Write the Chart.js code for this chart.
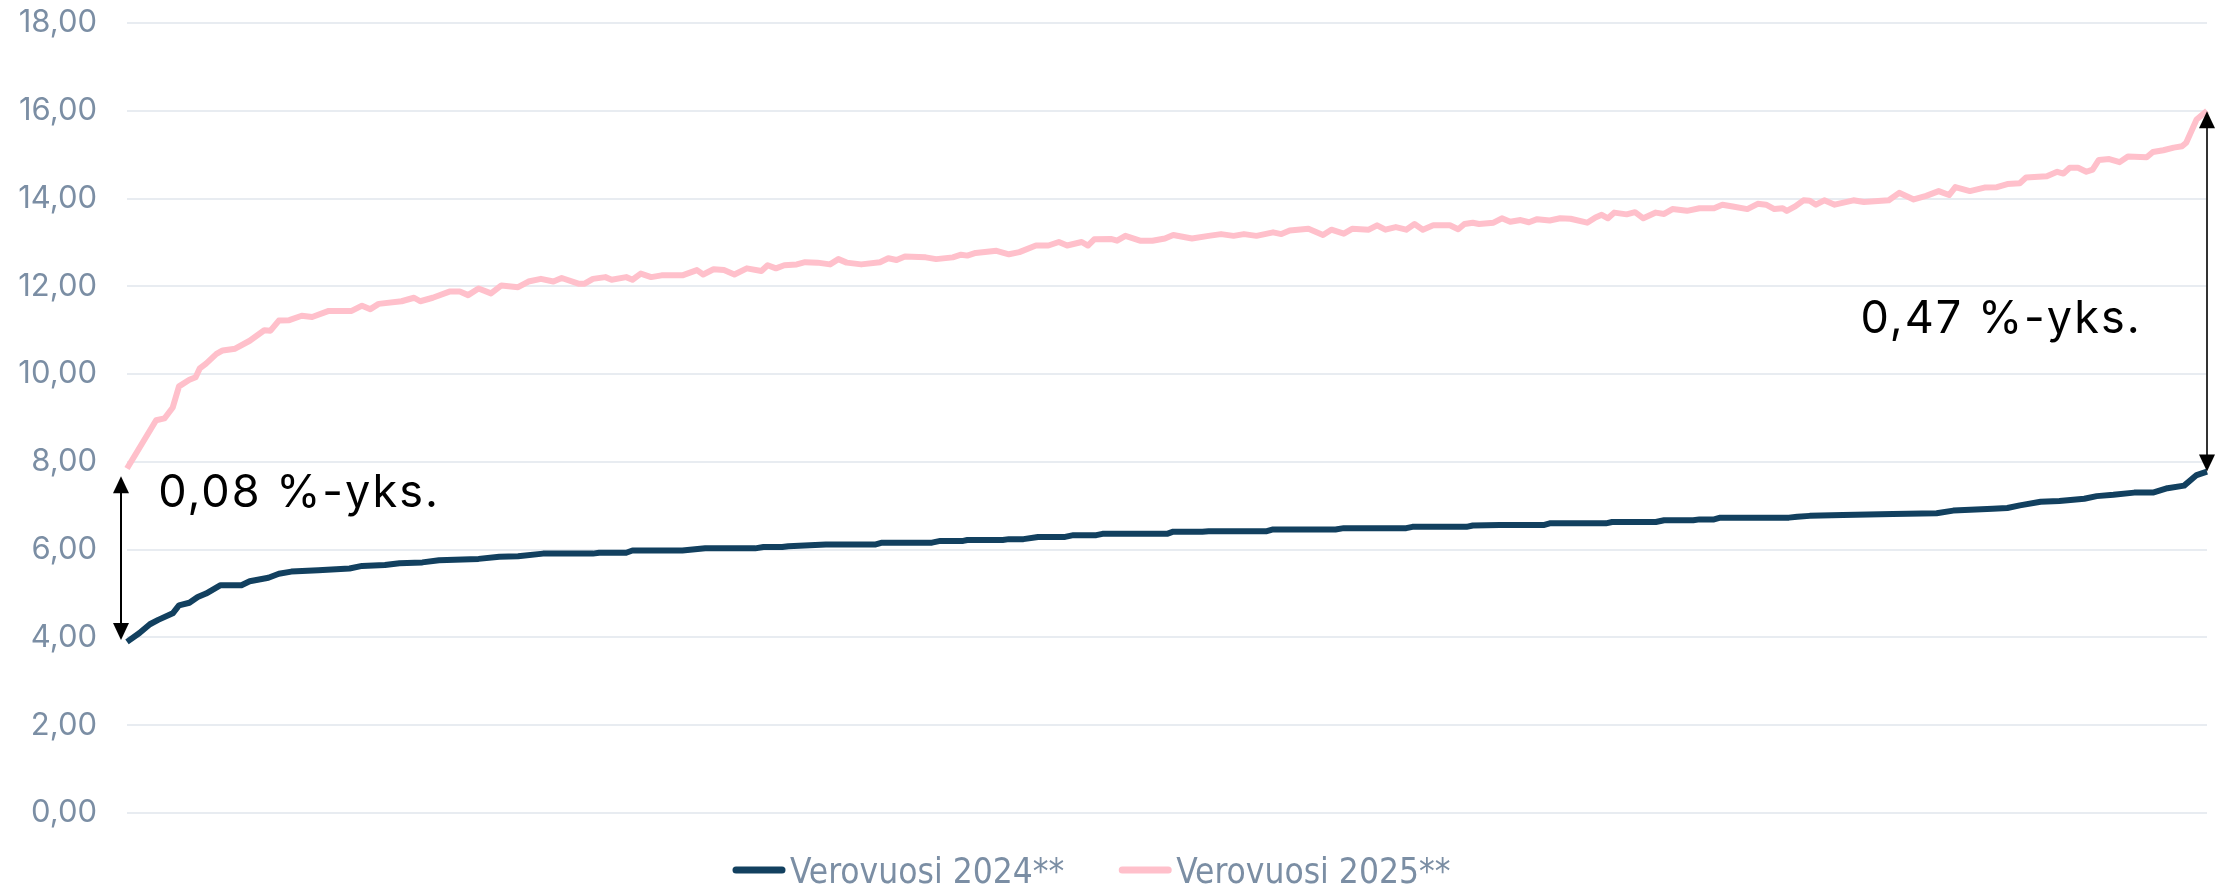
<!DOCTYPE html>
<html>
<head>
<meta charset="utf-8">
<script src="https://cdn.jsdelivr.net/npm/chart.js@4.4.1/dist/chart.umd.min.js"></script>
<style>
  html, body { margin: 0; padding: 0; background: #fff; }
</style>
</head>
<body>
<canvas id="chart" width="2221" height="885"></canvas>
<script>
// x = kuntien osuus (%), järjestetty vuoden 2024 mukaan
const share2024 = [0,0.6,1.1,1.5,2.2,2.5,3.0,3.4,3.8,4.5,5.5,5.9,6.8,7.3,7.9,9.2,10.7,11.3,12.4,13.1,
  14.2,15.0,16.9,17.9,18.8,20.0,22.4,22.7,24.0,24.3,26.7,27.8,30.2,30.6,31.5,31.8,33.6,36.0,36.3,38.7,
  39.1,40.2,40.4,42.1,42.4,43.1,43.8,45.1,45.5,46.6,46.9,50.0,50.3,51.7,52.0,54.8,55.1,58.1,58.5,61.5,
  61.8,64.4,64.7,66.0,68.1,68.4,71.1,71.4,73.5,73.9,75.3,75.6,76.3,76.6,79.9,80.3,80.9,82.5,84.9,87.0,
  87.8,89.7,90.4,91.0,92.0,92.9,94.1,94.7,95.5,96.5,97.4,98.1,98.9,99.5,100];
const rate2024 = [3.90,4.10,4.30,4.40,4.55,4.73,4.79,4.92,5.00,5.19,5.19,5.28,5.36,5.45,5.50,5.53,5.57,5.63,5.65,5.69,
  5.71,5.76,5.79,5.84,5.85,5.91,5.91,5.93,5.93,5.98,5.98,6.03,6.03,6.06,6.06,6.08,6.12,6.12,6.16,6.16,
  6.20,6.20,6.22,6.22,6.24,6.24,6.29,6.29,6.33,6.33,6.36,6.36,6.41,6.41,6.42,6.42,6.46,6.46,6.49,6.49,
  6.52,6.52,6.55,6.56,6.56,6.60,6.60,6.63,6.63,6.67,6.67,6.69,6.69,6.73,6.73,6.75,6.77,6.79,6.81,6.83,
  6.89,6.93,6.95,7.01,7.09,7.11,7.16,7.22,7.25,7.30,7.30,7.40,7.46,7.70,7.78];

const share2025 = [0,1.4,1.8,2.2,2.5,3.0,3.3,3.5,3.8,4.3,4.6,5.2,5.9,6.6,6.9,7.3,7.8,8.4,8.9,9.7,
  10.8,11.3,11.7,12.1,13.2,13.8,14.1,14.7,15.5,16.0,16.4,16.9,17.5,18.0,18.8,19.3,19.9,20.5,20.9,21.7,
  22.0,22.4,23.0,23.3,24.0,24.3,24.7,25.2,25.7,26.7,27.4,27.7,28.2,28.7,29.2,29.8,30.5,30.8,31.2,31.6,
  32.2,32.6,33.2,33.8,34.2,34.6,35.3,36.2,36.6,37.0,37.4,38.4,38.9,39.7,40.1,40.4,40.8,41.8,42.4,42.9,
  43.7,44.3,44.8,45.2,45.9,46.2,46.5,47.3,47.6,48.0,48.7,49.3,49.9,50.3,51.2,52.0,52.6,53.2,53.7,54.3,
  55.1,55.5,55.9,56.8,57.5,57.9,58.5,58.9,59.7,60.1,60.5,61.0,61.5,61.9,62.3,62.8,63.6,64.0,64.3,64.7,
  65.0,65.7,66.1,66.5,67.0,67.4,67.8,68.4,68.9,69.4,70.2,70.6,70.9,71.2,71.5,72.1,72.5,72.9,73.5,73.9,
  74.3,75.0,75.6,76.3,76.7,77.2,77.9,78.4,78.8,79.2,79.6,79.8,80.2,80.6,80.9,81.2,81.6,82.1,83.0,83.5,
  84.7,85.2,85.9,86.5,87.1,87.6,87.9,88.6,89.3,89.9,90.4,91.0,91.3,92.3,92.8,93.1,93.4,93.8,94.2,94.5,
  94.8,95.3,95.8,96.2,97.1,97.4,97.9,98.4,98.8,99.0,99.5,100];
const rate2025 = [7.85,8.95,8.99,9.24,9.72,9.87,9.93,10.13,10.24,10.46,10.54,10.58,10.76,11.00,10.99,11.22,11.23,11.33,11.30,11.44,
  11.44,11.56,11.48,11.60,11.66,11.74,11.66,11.74,11.88,11.88,11.80,11.95,11.84,12.02,11.98,12.11,12.17,12.11,12.19,12.06,
  12.06,12.17,12.21,12.15,12.21,12.15,12.29,12.21,12.25,12.25,12.37,12.27,12.39,12.37,12.27,12.41,12.35,12.48,12.41,12.48,
  12.50,12.55,12.54,12.50,12.62,12.54,12.50,12.55,12.64,12.60,12.68,12.66,12.62,12.66,12.72,12.70,12.76,12.81,12.73,12.78,
  12.93,12.93,13.01,12.93,13.01,12.93,13.07,13.08,13.04,13.15,13.04,13.04,13.09,13.17,13.09,13.15,13.19,13.15,13.19,13.15,
  13.23,13.19,13.27,13.31,13.17,13.29,13.20,13.31,13.29,13.39,13.29,13.35,13.29,13.42,13.29,13.39,13.39,13.30,13.42,13.45,
  13.42,13.45,13.55,13.47,13.51,13.46,13.53,13.50,13.55,13.54,13.45,13.57,13.63,13.55,13.68,13.64,13.69,13.55,13.68,13.65,
  13.76,13.72,13.78,13.78,13.86,13.82,13.76,13.88,13.86,13.76,13.78,13.72,13.82,13.96,13.95,13.86,13.96,13.86,13.96,13.92,
  13.96,14.13,13.98,14.06,14.17,14.08,14.26,14.17,14.25,14.26,14.33,14.35,14.48,14.51,14.61,14.57,14.70,14.70,14.61,14.66,
  14.88,14.90,14.83,14.96,14.94,15.06,15.10,15.16,15.19,15.27,15.80,16.00];

const yTicks = [0, 2, 4, 6, 8, 10, 12, 14, 16, 18];

// nuolet ja niiden tekstit (arvoina)
const arrowAt = [0, 100];
const arrowFrom = [3.94, 7.78];
const arrowTo = [7.67, 15.99];
const gapLabels = ['0,08 %-yks.', '0,47 %-yks.'];
const gapLabelX = [1.5, 90.1];
const gapLabelY = [6.97, 10.94];

const tickColor = '#7b8ea4';

const toPoints = (xs, ys) => xs.map((x, i) => ({ x: x, y: ys[i] }));

const gapArrows = {
  id: 'gapArrows',
  afterDatasetsDraw(chart) {
    const { ctx, scales: { x, y } } = chart;
    ctx.save();
    arrowAt.forEach((a, i) => {
      const px = x.getPixelForValue(a) + (i === 0 ? -6 : 0);
      const yb = y.getPixelForValue(arrowFrom[i]);
      const yt = y.getPixelForValue(arrowTo[i]);
      ctx.strokeStyle = i === 0 ? '#000' : '#333';
      ctx.fillStyle = '#000';
      ctx.lineWidth = 2;
      ctx.beginPath();
      ctx.moveTo(px, yt + 10);
      ctx.lineTo(px, yb - 10);
      ctx.stroke();
      ctx.beginPath();
      ctx.moveTo(px, yt);
      ctx.lineTo(px - 8, yt + 17);
      ctx.lineTo(px + 8, yt + 17);
      ctx.closePath();
      ctx.fill();
      ctx.beginPath();
      ctx.moveTo(px, yb);
      ctx.lineTo(px - 8, yb - 17);
      ctx.lineTo(px + 8, yb - 17);
      ctx.closePath();
      ctx.fill();
    });
    ctx.font = '45px Inter, "Open Sans", sans-serif';
    if ('letterSpacing' in ctx) ctx.letterSpacing = '2px';
    ctx.fillStyle = '#000';
    ctx.textBaseline = 'alphabetic';
    gapLabels.forEach((t, i) => {
      ctx.textAlign = i === 0 ? 'left' : 'center';
      ctx.fillText(t, x.getPixelForValue(gapLabelX[i]), y.getPixelForValue(gapLabelY[i]));
    });
    ctx.restore();
  }
};

const bottomLegend = {
  id: 'bottomLegend',
  afterDraw(chart) {
    const ctx = chart.ctx;
    ctx.save();
    ctx.font = '35px "Liberation Sans Narrow", "DejaVu Sans Condensed", sans-serif';
    ctx.textBaseline = 'alphabetic';
    ctx.textAlign = 'left';
    let lx = 732;
    chart.data.datasets.forEach(ds => {
      ctx.strokeStyle = ds.borderColor;
      ctx.lineWidth = 7;
      ctx.lineCap = 'round';
      ctx.beginPath();
      ctx.moveTo(lx + 4, 870);
      ctx.lineTo(lx + 50, 870);
      ctx.stroke();
      ctx.fillStyle = tickColor;
      ctx.fillText(ds.label, lx + 58, 883);
      lx += 58 + ctx.measureText(ds.label).width + 54;
    });
    ctx.restore();
  }
};

new Chart(document.getElementById('chart'), {
  type: 'line',
  data: {
    datasets: [
      {
        label: 'Verovuosi 2024**',
        data: toPoints(share2024, rate2024),
        borderColor: '#12405f',
        borderWidth: 6,
        pointRadius: 0,
        tension: 0,
        borderJoinStyle: 'round'
      },
      {
        label: 'Verovuosi 2025**',
        data: toPoints(share2025, rate2025),
        borderColor: '#ffc0cb',
        borderWidth: 6,
        pointRadius: 0,
        tension: 0,
        borderJoinStyle: 'round'
      }
    ]
  },
  options: {
    responsive: false,
    animation: false,
    clip: false,
    layout: { padding: { left: 0, right: 14, top: 23, bottom: 72 } },
    plugins: {
      legend: { display: false },
      tooltip: { enabled: false }
    },
    scales: {
      x: {
        type: 'linear',
        min: 0,
        max: 100,
        display: false
      },
      y: {
        min: 0,
        max: 18,
        afterBuildTicks: s => { s.ticks = yTicks.map(v => ({ value: v })); },
        afterFit: s => { s.width = 127; s.paddingTop = 0; s.paddingBottom = 0; },
        border: { display: false },
        grid: { color: '#e8ecf1', lineWidth: 2, drawTicks: false },
        ticks: {
          padding: 30,
          color: tickColor,
          font: { family: 'Inter, "Open Sans", sans-serif', size: 31 },
          callback: v => v.toFixed(2).replace('.', ',')
        }
      }
    }
  },
  plugins: [gapArrows, bottomLegend]
});
</script>
</body>
</html>
